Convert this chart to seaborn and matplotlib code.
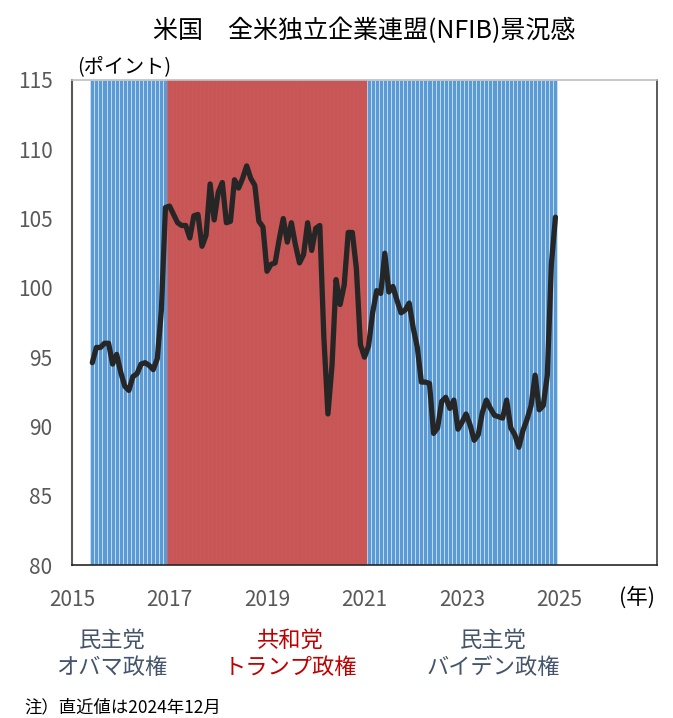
import numpy as np
import matplotlib
matplotlib.use("Agg")
import matplotlib.pyplot as plt
import seaborn as sns

sns.set_style("white")
plt.rcParams['font.family'] = ['Noto Sans CJK JP', 'DejaVu Sans']

# NFIB small business optimism index, monthly (Jun 2015 - Dec 2024)
start_year, start_month = 2015, 6
vals_2015 = [94.6, 95.7, 95.7, 96.0, 96.0, 94.5, 95.2]
vals_2016 = [93.9, 92.9, 92.6, 93.6, 93.8, 94.5, 94.6, 94.4, 94.1, 94.9, 98.4, 105.8]
vals_2017 = [105.9, 105.3, 104.7, 104.5, 104.5, 103.6, 105.2, 105.3, 103.0, 103.8, 107.5, 104.9]
vals_2018 = [106.9, 107.6, 104.7, 104.8, 107.8, 107.2, 107.9, 108.8, 107.9, 107.4, 104.8, 104.4]
vals_2019 = [101.2, 101.7, 101.8, 103.5, 105.0, 103.3, 104.7, 103.1, 101.8, 102.4, 104.7, 102.7]
vals_2020 = [104.3, 104.5, 96.4, 90.9, 94.4, 100.6, 98.8, 100.2, 104.0, 104.0, 101.4, 95.9]
vals_2021 = [95.0, 95.8, 98.2, 99.8, 99.6, 102.5, 99.7, 100.1, 99.1, 98.2, 98.4, 98.9]
vals_2022 = [97.1, 95.7, 93.2, 93.2, 93.1, 89.5, 89.9, 91.8, 92.1, 91.3, 91.9, 89.8]
vals_2023 = [90.3, 90.9, 90.1, 89.0, 89.4, 91.0, 91.9, 91.3, 90.8, 90.7, 90.6, 91.9]
vals_2024 = [89.9, 89.4, 88.5, 89.7, 90.5, 91.5, 93.7, 91.2, 91.5, 93.7, 101.7, 105.1]

# administrations (first month, last month)
obama = ((2015, 6), (2016, 12))
trump = ((2017, 1), (2021, 1))
biden = ((2021, 2), (2024, 12))

party_labels = ["民主党\nオバマ政権", "共和党\nトランプ政権", "民主党\nバイデン政権"]
year_ticks = [2015, 2017, 2019, 2021, 2023, 2025]
y_ticks = [80, 85, 90, 95, 100, 105, 110, 115]

values = np.array(vals_2015 + vals_2016 + vals_2017 + vals_2018 + vals_2019 +
                  vals_2020 + vals_2021 + vals_2022 + vals_2023 + vals_2024)
dates = start_year + (start_month - 1 + np.arange(len(values))) / 12


def months(period):
    (y0, m0), (y1, m1) = period
    n = (y1 - y0) * 12 + (m1 - m0) + 1
    return y0 + (m0 - 1 + np.arange(n)) / 12


fig = plt.figure(figsize=(6.73, 7.18), dpi=100)
ax = fig.add_axes([72 / 673, 1 - 565 / 718, 585 / 673, 485 / 718])

blue = '#5B9BD5'
red = '#C85656'
for period, col, edge in [(obama, blue, '#D6E6F5'), (trump, red, red), (biden, blue, '#D6E6F5')]:
    xs = months(period)
    ax.bar(xs, 35, bottom=80, width=1 / 12, color=col, edgecolor=edge,
           linewidth=0.5, zorder=1)

sns.lineplot(x=dates, y=values, color='#262626', linewidth=3.8, ax=ax,
             zorder=3, solid_joinstyle='round', solid_capstyle='round')

ax.set_xlim(2015, 2027)
ax.set_ylim(80, 115)
ax.set_xticks(year_ticks)
ax.set_yticks(y_ticks)
ax.tick_params(axis='both', direction='in', length=6, width=1.2, colors='#595959',
               labelsize=15, labelcolor='#595959')
ax.tick_params(axis='y', pad=14)
ax.tick_params(axis='x', pad=17)
ax.spines['left'].set_color('#595959')
ax.spines['left'].set_linewidth(1.5)
ax.spines['top'].set_color('#BFBFBF')
ax.spines['top'].set_linewidth(1.2)
ax.spines['right'].set_color('#404040')
ax.spines['bottom'].set_color('#262626')
ax.spines['right'].set_linewidth(1.2)
ax.spines['bottom'].set_linewidth(1.2)
ax.set_xlabel('')
ax.set_ylabel('')

ax.set_title("米国　全米独立企業連盟(NFIB)景況感", fontsize=18, pad=30, color='black')
ax.text(0.008, 1.005, "(ポイント)", transform=ax.transAxes, fontsize=14.5,
        ha='left', va='bottom', color='black')
fig.text(637 / 673, 1 - 598 / 718, "(年)", fontsize=15.5, ha='center', va='center',
         color='black')

label_cols = ['#44546A', '#C00000', '#44546A']
label_x = [112, 290, 493]
for lab, col, lx in zip(party_labels, label_cols, label_x):
    fig.text(lx / 673, 1 - 654 / 718, lab, fontsize=16, ha='center', va='center',
             color=col, linespacing=1.25)

fig.text(24 / 673, 1 - 707 / 718, "注）直近値は2024年12月", fontsize=12.5,
         ha='left', va='center', color='black')

fig.savefig("out.png", dpi=100)
